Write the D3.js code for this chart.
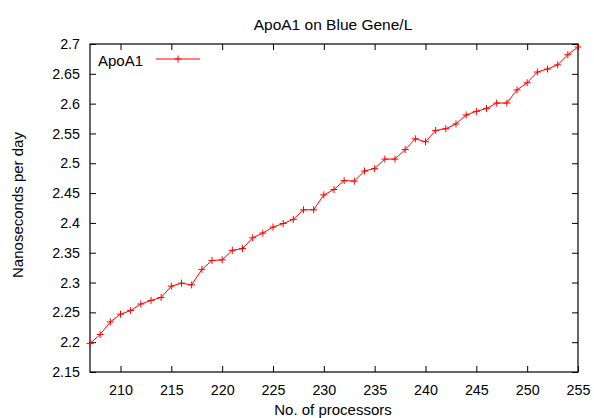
<!DOCTYPE html>
<html>
<head>
<meta charset="utf-8">
<script src="https://cdn.jsdelivr.net/npm/d3@7"></script>
<style>
  body { margin: 0; background: #fff; }
  svg text { font-family: "Liberation Sans", Arial, sans-serif; fill: #000; }
</style>
</head>
<body>
<div id="chart"></div>
<script>
// data
var processors = [207, 208, 209, 210, 211, 212, 213, 214, 215, 216, 217, 218, 219, 220, 221, 222, 223, 224, 225, 226, 227, 228, 229, 230, 231, 232, 233, 234, 235, 236, 237, 238, 239, 240, 241, 242, 243, 244, 245, 246, 247, 248, 249, 250, 251, 252, 253, 254, 255];
var nsPerDay = [2.198, 2.213, 2.234, 2.247, 2.253, 2.264, 2.270, 2.275, 2.294, 2.299, 2.296, 2.322, 2.337, 2.338, 2.354, 2.357, 2.375, 2.383, 2.393, 2.399, 2.406, 2.422, 2.422, 2.447, 2.456, 2.471, 2.470, 2.487, 2.491, 2.507, 2.507, 2.523, 2.541, 2.536, 2.555, 2.558, 2.566, 2.581, 2.587, 2.592, 2.601, 2.601, 2.623, 2.635, 2.653, 2.658, 2.665, 2.682, 2.695];
var xTicks = [210, 215, 220, 225, 230, 235, 240, 245, 250, 255];
var yTicks = [2.15, 2.2, 2.25, 2.3, 2.35, 2.4, 2.45, 2.5, 2.55, 2.6, 2.65, 2.7];
var seriesName = "ApoA1";

var W = 594, H = 418;
var margin = {top: 44, right: 16, bottom: 46, left: 90},
    width = W - margin.left - margin.right,
    height = H - margin.top - margin.bottom;

var svg = d3.select("#chart")
  .append("svg")
    .attr("width", W)
    .attr("height", H);

var g = svg.append("g")
    .attr("transform", "translate(" + margin.left + "," + margin.top + ")");

var x = d3.scaleLinear().domain([207, 255]).range([0, width]);
var y = d3.scaleLinear().domain([2.15, 2.7]).range([height, 0]);

// axes, ticks point inward and mirror on the other side
function fmt(d) { return String(+d.toFixed(2)); }

var xb = g.append("g")
    .attr("transform", "translate(0," + height + ")")
    .call(d3.axisBottom(x).tickValues(xTicks).tickSize(-6).tickPadding(13).tickFormat(fmt));
var xt = g.append("g")
    .call(d3.axisTop(x).tickValues(xTicks).tickSize(-6).tickFormat(""));
var yl = g.append("g")
    .call(d3.axisLeft(y).tickValues(yTicks).tickSize(-6).tickPadding(10).tickFormat(fmt));
var yr = g.append("g")
    .attr("transform", "translate(" + width + ",0)")
    .call(d3.axisRight(y).tickValues(yTicks).tickSize(-6).tickFormat(""));

[xb, xt, yl, yr].forEach(function(a) {
  a.select(".domain").remove();
  a.selectAll(".tick line").attr("stroke", "#000").attr("stroke-width", 1);
  a.selectAll("text").style("font-size", "14.3px").attr("fill", "#000");
});

// border box
g.append("rect")
  .attr("x", 0).attr("y", 0)
  .attr("width", width).attr("height", height)
  .attr("fill", "none")
  .attr("stroke", "#000")
  .attr("stroke-width", 1.2);

// line + markers
var pts = processors.map(function(p, i) { return [p, nsPerDay[i]]; });

var line = d3.line()
  .x(function(d) { return x(d[0]); })
  .y(function(d) { return y(d[1]); });

g.append("path")
  .datum(pts)
  .attr("fill", "none")
  .attr("stroke", "#ff0000")
  .attr("stroke-width", 1)
  .attr("d", line);

function plusPath(cx, cy, r) {
  return "M" + (cx - r) + "," + cy + "H" + (cx + r) + "M" + cx + "," + (cy - r) + "V" + (cy + r);
}

g.append("g")
  .selectAll("path")
  .data(pts)
  .enter().append("path")
    .attr("d", function(d) { return plusPath(x(d[0]), y(d[1]), 3.5); })
    .attr("stroke", "#ff0000")
    .attr("stroke-width", 1)
    .attr("fill", "none");

// legend
var lg = svg.append("g");
lg.append("text")
  .attr("x", 98).attr("y", 65.5)
  .style("font-size", "15px")
  .text(seriesName);
lg.append("line")
  .attr("x1", 156).attr("x2", 200)
  .attr("y1", 59).attr("y2", 59)
  .attr("stroke", "#ff0000")
  .attr("stroke-width", 1);
lg.append("path")
  .attr("d", plusPath(178, 59, 3.5))
  .attr("stroke", "#ff0000")
  .attr("fill", "none");

// titles
svg.append("text")
  .attr("x", 333).attr("y", 30)
  .attr("text-anchor", "middle")
  .style("font-size", "15.5px")
  .text("ApoA1 on Blue Gene/L");

svg.append("text")
  .attr("x", 333).attr("y", 414.5)
  .attr("text-anchor", "middle")
  .style("font-size", "15px")
  .text("No. of processors");

svg.append("text")
  .attr("transform", "translate(22.5,205) rotate(-90)")
  .attr("text-anchor", "middle")
  .style("font-size", "15px")
  .text("Nanoseconds per day");
</script>
</body>
</html>
